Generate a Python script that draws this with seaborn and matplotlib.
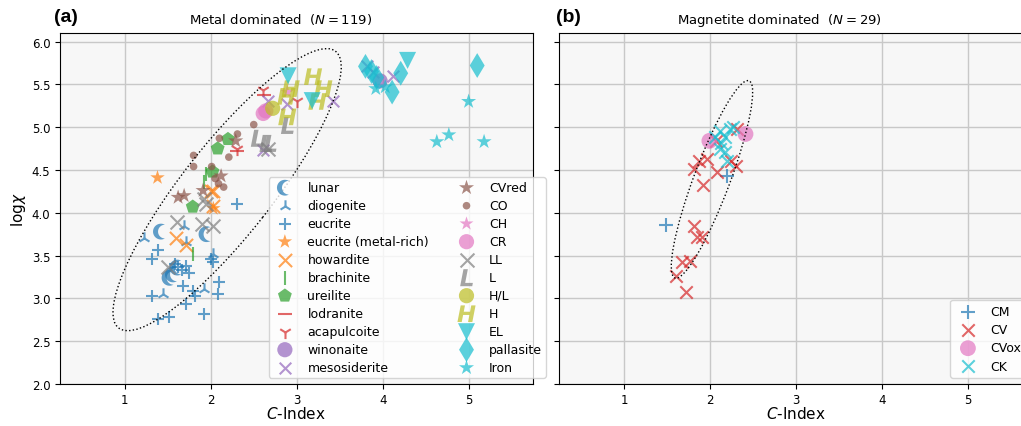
import matplotlib
matplotlib.use("Agg")
import matplotlib.pyplot as plt
import numpy as np
import seaborn as sns
from matplotlib.patches import Ellipse
from matplotlib.path import Path

# ---- metal dominated groups (C-Index, log chi) ----
lunar_x = [1.42, 1.95, 1.56, 1.61, 1.52]
lunar_y = [3.78, 3.75, 3.28, 3.36, 3.24]
diogenite_x = [1.22, 1.69, 1.44, 1.71, 2.03, 1.92]
diogenite_y = [3.71, 3.84, 3.05, 3.66, 3.52, 3.11]
eucrite_x = [2.30, 1.39, 1.32, 1.62, 1.71, 2.00, 2.09, 2.08, 1.68, 1.79, 1.82, 1.71, 1.32,
             1.92, 1.39, 1.51, 1.66, 2.02, 1.75, 1.58]
eucrite_y = [4.10, 3.56, 3.46, 3.37, 3.38, 3.46, 3.19, 3.05, 3.15, 3.09, 3.03, 2.94, 3.03,
             2.82, 2.76, 2.78, 3.33, 3.42, 3.30, 3.40]
eucrite_mr_x = [1.38, 2.03]
eucrite_mr_y = [4.41, 4.05]
howardite_x = [1.59, 1.71, 2.02, 2.02, 2.00]
howardite_y = [3.70, 3.62, 4.25, 4.08, 4.25]
brachinite_x = [1.79, 1.92, 1.95]
brachinite_y = [3.52, 4.36, 4.45]
ureilite_x = [2.08, 2.20, 2.02, 1.79]
ureilite_y = [4.75, 4.86, 4.48, 4.07]
lodranite_x = [2.31, 2.62]
lodranite_y = [4.72, 5.38]
acapulcoite_x = [2.31, 2.61, 3.00]
acapulcoite_y = [4.75, 5.43, 5.30]
winonaite_x = [3.97]
winonaite_y = [5.54]
mesosiderite_x = [2.61, 2.67, 2.89, 3.42, 3.82, 4.12, 3.89]
mesosiderite_y = [4.73, 5.31, 5.27, 5.30, 5.71, 5.60, 5.65]
cvred_x = [1.69, 1.91, 2.12, 2.29, 1.62]
cvred_y = [4.20, 4.26, 4.43, 4.84, 4.18]
co_x = [1.80, 1.80, 2.01, 2.09, 2.21, 2.31, 2.10, 2.50, 2.05, 2.15]
co_y = [4.67, 4.54, 4.54, 4.34, 4.65, 4.92, 4.87, 5.03, 4.40, 4.30]
ch_x = [2.89]
ch_y = [5.41]
cr_x = [2.61, 2.64]
cr_y = [5.16, 5.19]
ll_x = [1.61, 1.90, 2.02, 1.50, 1.92, 1.94, 2.66]
ll_y = [3.89, 3.87, 3.85, 3.37, 4.16, 4.10, 4.75]
l_x = [2.54, 2.64, 2.69, 2.89]
l_y = [4.87, 4.81, 4.81, 5.02]
hl_x = [2.72]
hl_y = [5.22]
h_x = [3.19, 3.31, 2.93, 2.89, 3.24, 2.88]
h_y = [5.59, 5.45, 5.45, 5.12, 5.30, 5.36]
el_x = [2.90, 3.18, 4.29]
el_y = [5.60, 5.31, 5.78]
pallasite_x = [3.80, 3.87, 4.21, 4.11, 5.10, 3.93]
pallasite_y = [5.71, 5.65, 5.63, 5.41, 5.72, 5.58]
iron_x = [3.92, 4.03, 5.00, 4.63, 4.77, 5.18]
iron_y = [5.45, 5.47, 5.30, 4.83, 4.91, 4.83]

# ---- magnetite dominated groups ----
cm_x = [1.49, 2.20]
cm_y = [3.86, 4.43]
cv_x = [1.72, 1.60, 1.67, 1.77, 1.81, 1.84, 1.90, 1.91, 1.81, 1.87, 1.96, 2.08, 2.30, 2.24, 2.07, 2.31]
cv_y = [3.08, 3.26, 3.43, 3.44, 3.85, 3.72, 3.72, 4.32, 4.51, 4.60, 4.63, 4.48, 4.55, 4.60, 4.84, 4.98]
cvox_x = [1.99, 2.41]
cvox_y = [4.84, 4.92]
ck_x = [2.11, 2.23, 2.17, 2.11, 2.17, 2.19, 2.05, 2.26, 2.13]
ck_y = [4.95, 4.98, 4.89, 4.75, 4.71, 4.60, 4.89, 5.00, 4.82]

# solid crescent marker for the lunar samples
t_out = np.radians(np.linspace(60, 300, 40))
t_in = np.radians(np.linspace(270, 90, 40))
outer = np.column_stack([np.cos(t_out), np.sin(t_out)])
inner = np.column_stack([0.5 + 0.866 * np.cos(t_in), 0.866 * np.sin(t_in)])
moon = Path(np.vstack([outer, inner, outer[:1]]), closed=True)

pal = sns.color_palette("tab10")
FILLED = "filled"
LINE = "line"

metal_groups = [
    ("lunar", lunar_x, lunar_y, pal[0], moon, 130, FILLED),
    ("diogenite", diogenite_x, diogenite_y, pal[0], "2", 80, LINE),
    ("eucrite", eucrite_x, eucrite_y, pal[0], "+", 80, LINE),
    ("eucrite (metal-rich)", eucrite_mr_x, eucrite_mr_y, pal[1], "*", 120, FILLED),
    ("howardite", howardite_x, howardite_y, pal[1], "x", 90, LINE),
    ("brachinite", brachinite_x, brachinite_y, pal[2], "|", 90, LINE),
    ("ureilite", ureilite_x, ureilite_y, pal[2], "p", 110, FILLED),
    ("lodranite", lodranite_x, lodranite_y, pal[3], "_", 90, LINE),
    ("acapulcoite", acapulcoite_x, acapulcoite_y, pal[3], "1", 90, LINE),
    ("winonaite", winonaite_x, winonaite_y, pal[4], "o", 120, FILLED),
    ("mesosiderite", mesosiderite_x, mesosiderite_y, pal[4], "x", 70, LINE),
    ("CVred", cvred_x, cvred_y, pal[5], "*", 130, FILLED),
    ("CO", co_x, co_y, pal[5], "o", 30, FILLED),
    ("CH", ch_x, ch_y, pal[6], "*", 110, FILLED),
    ("CR", cr_x, cr_y, pal[6], "o", 120, FILLED),
    ("LL", ll_x, ll_y, pal[7], "x", 100, LINE),
    ("L", l_x, l_y, pal[7], "$\\mathbfit{L}$", 150, FILLED),
    ("H/L", hl_x, hl_y, pal[8], "o", 120, FILLED),
    ("H", h_x, h_y, pal[8], "$\\mathbfit{H}$", 170, FILLED),
    ("EL", el_x, el_y, pal[9], "v", 150, FILLED),
    ("pallasite", pallasite_x, pallasite_y, pal[9], "d", 160, FILLED),
    ("Iron", iron_x, iron_y, pal[9], "*", 130, FILLED),
]

mag_groups = [
    ("CM", cm_x, cm_y, pal[0], "+", 100, LINE),
    ("CV", cv_x, cv_y, pal[3], "x", 80, LINE),
    ("CVox", cvox_x, cvox_y, pal[6], "o", 130, FILLED),
    ("CK", ck_x, ck_y, pal[9], "x", 80, LINE),
]


def draw(ax, groups):
    for name, xs, ys, col, mk, size, kind in groups:
        kw = dict(edgecolor="none") if kind == FILLED else dict(linewidth=1.5)
        sns.scatterplot(x=xs, y=ys, ax=ax, color=col, marker=mk, s=size,
                        alpha=0.7, label=name, **kw)


fig = plt.figure(figsize=(10.21, 4.27), dpi=100)
ax1 = fig.add_axes([0.0583, 0.0984, 0.4638, 0.822])
ax2 = fig.add_axes([0.5475, 0.0984, 0.4638, 0.822])

for ax in (ax1, ax2):
    ax.set_facecolor("#f7f7f7")
    ax.grid(True, color="#c8c8c8", linewidth=1)
    ax.set_axisbelow(True)
    ax.set_xlim(0.24, 5.75)
    ax.set_ylim(2.0, 6.1)
    ax.set_xticks([1, 2, 3, 4, 5])
    ax.set_yticks([2.0, 2.5, 3.0, 3.5, 4.0, 4.5, 5.0, 5.5, 6.0])
    ax.tick_params(labelsize=8.5, pad=3)

draw(ax1, metal_groups)
draw(ax2, mag_groups)

for ax in (ax1, ax2):
    ax.set_xlabel("$C$-Index", fontsize=11, labelpad=-0.5)

ax1.yaxis.set_major_formatter(matplotlib.ticker.FormatStrFormatter("%.1f"))
ax1.set_ylabel("log$\\chi$", fontsize=11, labelpad=3)
ax2.set_yticklabels([])
ax2.set_ylabel("")

ax1.add_patch(Ellipse((2.19, 4.27), 4.1, 1.05, angle=52, fill=False,
                      linestyle=":", edgecolor="k", linewidth=1))
ax2.add_patch(Ellipse((2.02, 4.39), 2.46, 0.42, angle=69.5, fill=False,
                      linestyle=":", edgecolor="k", linewidth=1))

ax1.set_title("Metal dominated  ($N = 119$)", fontsize=9.5, x=0.466, pad=7)
ax2.set_title("Magnetite dominated  ($N = 29$)", fontsize=9.5, x=0.466, pad=7)

ax1.legend(ncol=2, fontsize=9, loc="lower right", bbox_to_anchor=(1.04, 0.0),
           labelspacing=0.4, borderpad=0.3)
ax2.legend(fontsize=9, loc="lower right", labelspacing=0.42)

fig.text(54 / 1021, 1 - 18 / 427, "(a)", fontsize=14, fontweight="bold",
         family=["Liberation Sans", "DejaVu Sans"], va="center")
fig.text(556 / 1021, 1 - 18 / 427, "(b)", fontsize=14, fontweight="bold",
         family=["Liberation Sans", "DejaVu Sans"], va="center")

fig.savefig("out.png", dpi=100)
